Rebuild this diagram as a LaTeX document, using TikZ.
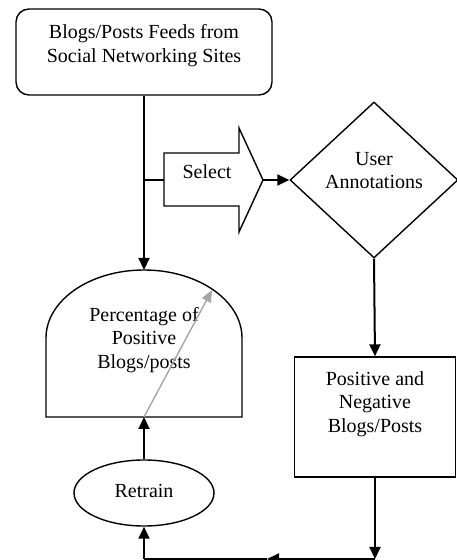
\documentclass[tikz,border=0pt]{standalone}
\usepackage{fontspec}
\setmainfont{Liberation Serif}
\usetikzlibrary{shapes.geometric,arrows.meta}
\begin{document}
\begin{tikzpicture}[x=1pt,y=1pt,
  shapeline/.style={draw=black,line width=1.4pt},
  conn/.style={line width=2pt,-{Triangle[length=12pt,width=11pt]}},
  plain/.style={line width=2pt},
  txt/.style={font=\fontsize{20}{23.5}\selectfont,align=center,inner sep=0pt},
]
\useasboundingbox (0,0) rectangle (457,560);
% top rounded box
\node[shapeline,rounded corners=13pt,minimum width=256pt,minimum height=86pt,inner sep=0pt] (src) at (144,508) {};
\node[txt] (srct) at (144,514.5) {Blogs/Posts Feeds from\\Social Networking Sites};
% dome
\coordinate (domebl) at (46,143);
\coordinate (domebr) at (242,143);
\draw[shapeline] (domebl) -- (46,222) arc[start angle=180,end angle=0,x radius=98,y radius=68] -- (domebr) -- cycle;
\coordinate (dometop) at (144,290);
\coordinate (domebot) at (144,143);
\node[txt] (pct) at (144,220) {Percentage of\\Positive\\Blogs/posts};
% select arrow
\coordinate (selin) at (164,380);
\coordinate (seltip) at (263,380);
\draw[shapeline] (164,407) -- (239,407) -- (239,432) -- (seltip) -- (239,328) -- (239,354) -- (164,354) -- cycle;
\node[txt] (sel) at (207,388) {Select};
% diamond
\node[shapeline,diamond,minimum width=168pt,minimum height=156pt,inner sep=0pt] (ua) at (374,380) {};
\node[txt] (uat) at (374,389.5) {User\\Annotations};
% positive/negative box
\node[shapeline,minimum width=161pt,minimum height=120pt,inner sep=0pt] (pn) at (375,143) {};
\node[txt] (pnt) at (375,156) {Positive and\\Negative\\Blogs/Posts};
% retrain ellipse
\node[shapeline,ellipse,minimum width=140pt,minimum height=66pt,inner sep=0pt] (rt) at (144,67) {};
\node[txt] (rtt) at (144,69) {Retrain};
% connectors
\coordinate (branch) at (144,380);
\draw[conn] (src.south) -- (dometop);
\draw[plain] (branch) -- (selin);
\draw[conn] (seltip) -- (ua.west);
\draw[conn] (ua.south) -- (pn.north);
\coordinate (br) at (375,1);
\coordinate (bm) at (267,1);
\coordinate (bl) at (144,1);
\draw[conn] (pn.south) -- (br);
\draw[conn] (br) -- (bm);
\draw[plain] (bm) -- (bl);
\draw[conn] (bl) -- (rt.south);
\draw[conn] (rt.north) -- (domebot);
\draw[line width=1.4pt,draw=black!35,-{Triangle[length=12pt,width=10pt]}] (domebot) -- (212,270);
\end{tikzpicture}
\end{document}
